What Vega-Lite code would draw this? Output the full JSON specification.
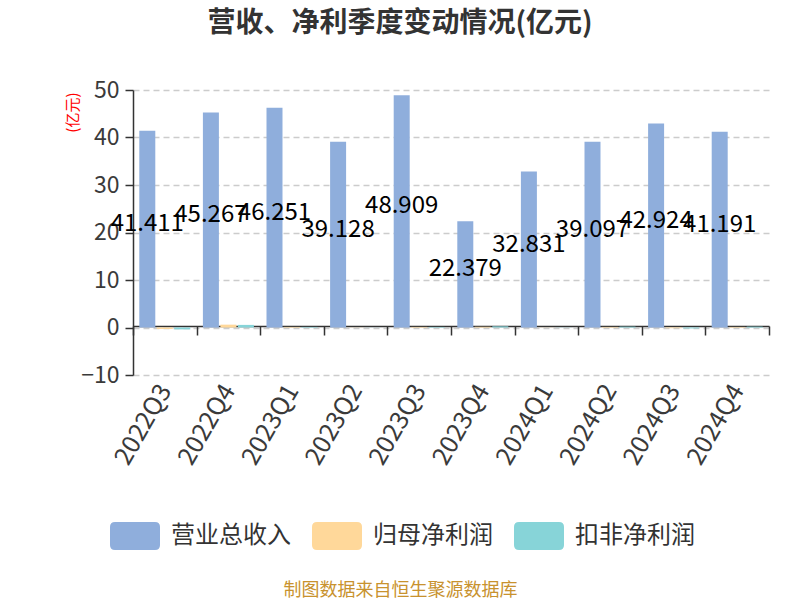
{
  "$schema": "https://vega.github.io/schema/vega-lite/v6.json",
  "autosize": {"type": "none"},
  "width": 636,
  "height": 285,
  "padding": {"left": 133, "top": 90, "right": 31, "bottom": 225},
  "background": "white",
  "config": {"font": "Noto Sans CJK SC", "view": {"stroke": null}},
  "title": {
    "text": "营收、净利季度变动情况(亿元)",
    "fontSize": 28,
    "fontWeight": "bold",
    "color": "#333333",
    "anchor": "middle",
    "dx": -51,
    "offset": 41
  },
  "data": {
    "values": [
      {"q": "2022Q3", "s": "营业总收入", "v": 41.411},
      {"q": "2022Q3", "s": "归母净利润", "v": -0.3},
      {"q": "2022Q3", "s": "扣非净利润", "v": -0.4},
      {"q": "2022Q4", "s": "营业总收入", "v": 45.267},
      {"q": "2022Q4", "s": "归母净利润", "v": 0.6},
      {"q": "2022Q4", "s": "扣非净利润", "v": 0.55},
      {"q": "2023Q1", "s": "营业总收入", "v": 46.251},
      {"q": "2023Q1", "s": "归母净利润", "v": 0.12},
      {"q": "2023Q1", "s": "扣非净利润", "v": 0.12},
      {"q": "2023Q2", "s": "营业总收入", "v": 39.128},
      {"q": "2023Q2", "s": "归母净利润", "v": 0.03},
      {"q": "2023Q2", "s": "扣非净利润", "v": -0.02},
      {"q": "2023Q3", "s": "营业总收入", "v": 48.909},
      {"q": "2023Q3", "s": "归母净利润", "v": 0.12},
      {"q": "2023Q3", "s": "扣非净利润", "v": 0.12},
      {"q": "2023Q4", "s": "营业总收入", "v": 22.379},
      {"q": "2023Q4", "s": "归母净利润", "v": 0.15},
      {"q": "2023Q4", "s": "扣非净利润", "v": 0.25},
      {"q": "2024Q1", "s": "营业总收入", "v": 32.831},
      {"q": "2024Q1", "s": "归母净利润", "v": 0.03},
      {"q": "2024Q1", "s": "扣非净利润", "v": 0.03},
      {"q": "2024Q2", "s": "营业总收入", "v": 39.097},
      {"q": "2024Q2", "s": "归母净利润", "v": 0.12},
      {"q": "2024Q2", "s": "扣非净利润", "v": 0.18},
      {"q": "2024Q3", "s": "营业总收入", "v": 42.924},
      {"q": "2024Q3", "s": "归母净利润", "v": -0.15},
      {"q": "2024Q3", "s": "扣非净利润", "v": -0.2},
      {"q": "2024Q4", "s": "营业总收入", "v": 41.191},
      {"q": "2024Q4", "s": "归母净利润", "v": 0.12},
      {"q": "2024Q4", "s": "扣非净利润", "v": 0.18}
    ]
  },
  "layer": [
    {
      "mark": {"type": "bar"},
      "encoding": {
        "x": {
          "field": "q",
          "type": "nominal",
          "sort": null,
          "scale": {"paddingInner": 0, "paddingOuter": 0},
          "axis": {
            "orient": "bottom",
            "offset": -49,
            "domainColor": "#333333",
            "domainWidth": 1.5,
            "tickColor": "#333333",
            "tickWidth": 1.5,
            "tickSize": 9,
            "tickBand": "extent",
            "labelAngle": -60,
            "labelFontSize": 25,
            "labelColor": "#3a3a3a",
            "labelPadding": 51,
            "title": "制图数据来自恒生聚源数据库",
            "titleFontSize": 18,
            "titleFontWeight": "normal",
            "titleColor": "#C8922E",
            "titleX": 267,
            "titleY": 264,
            "titleAlign": "center",
            "titleBaseline": "middle"
          }
        },
        "xOffset": {
          "field": "s",
          "type": "nominal",
          "scale": {"domain": ["营业总收入", "归母净利润", "扣非净利润"], "paddingInner": 0.086, "paddingOuter": 0.36}
        },
        "y": {
          "field": "v",
          "type": "quantitative",
          "scale": {"domain": [-10, 50], "nice": false, "zero": false},
          "axis": {
            "values": [-10, 0, 10, 20, 30, 40, 50],
            "domainColor": "#333333",
            "domainWidth": 1.5,
            "tickColor": "#333333",
            "tickWidth": 1.5,
            "tickSize": 8,
            "labelFontSize": 23,
            "labelColor": "#3a3a3a",
            "labelPadding": 6,
            "grid": true,
            "gridColor": "#cccccc",
            "gridDash": [6, 4],
            "gridWidth": 1.3,
            "title": "(亿元)",
            "titleColor": "#ff0000",
            "titleFontSize": 15,
            "titleFontWeight": "normal",
            "titleAngle": -90,
            "titleX": -61,
            "titleY": 2,
            "titleAlign": "right",
            "titleBaseline": "middle"
          }
        },
        "color": {
          "field": "s",
          "type": "nominal",
          "scale": {"domain": ["营业总收入", "归母净利润", "扣非净利润"], "range": ["#8FAEDC", "#FFD89A", "#87D4D8"]},
          "legend": {
            "orient": "none",
            "legendX": -23,
            "legendY": 421,
            "direction": "horizontal",
            "title": null,
            "symbolType": "M-0.8,-0.56L0.8,-0.56Q1,-0.56 1,-0.36L1,0.36Q1,0.56 0.8,0.56L-0.8,0.56Q-1,0.56 -1,0.36L-1,-0.36Q-1,-0.56 -0.8,-0.56Z",
            "symbolSize": 2500,
            "symbolStrokeWidth": 0,
            "symbolOpacity": 1,
            "labelFontSize": 24,
            "labelColor": "#333333",
            "labelOffset": 11,
            "columnPadding": 21,
            "labelLimit": 300
          }
        }
      }
    },
    {
      "transform": [{"filter": "datum.s === '营业总收入'"}],
      "mark": {"type": "text", "fontSize": 24, "color": "#000000", "dy": -5},
      "encoding": {
        "x": {"field": "q", "type": "nominal", "sort": null},
        "xOffset": {
          "field": "s",
          "type": "nominal",
          "scale": {"domain": ["营业总收入", "归母净利润", "扣非净利润"], "paddingInner": 0.086, "paddingOuter": 0.36}
        },
        "y": {
          "field": "v",
          "type": "quantitative",
          "scale": {"domain": [-20, 100], "nice": false, "zero": false},
          "axis": null
        },
        "text": {"field": "v", "type": "quantitative", "format": ".3f"}
      }
    }
  ],
  "resolve": {"scale": {"y": "independent"}}
}
